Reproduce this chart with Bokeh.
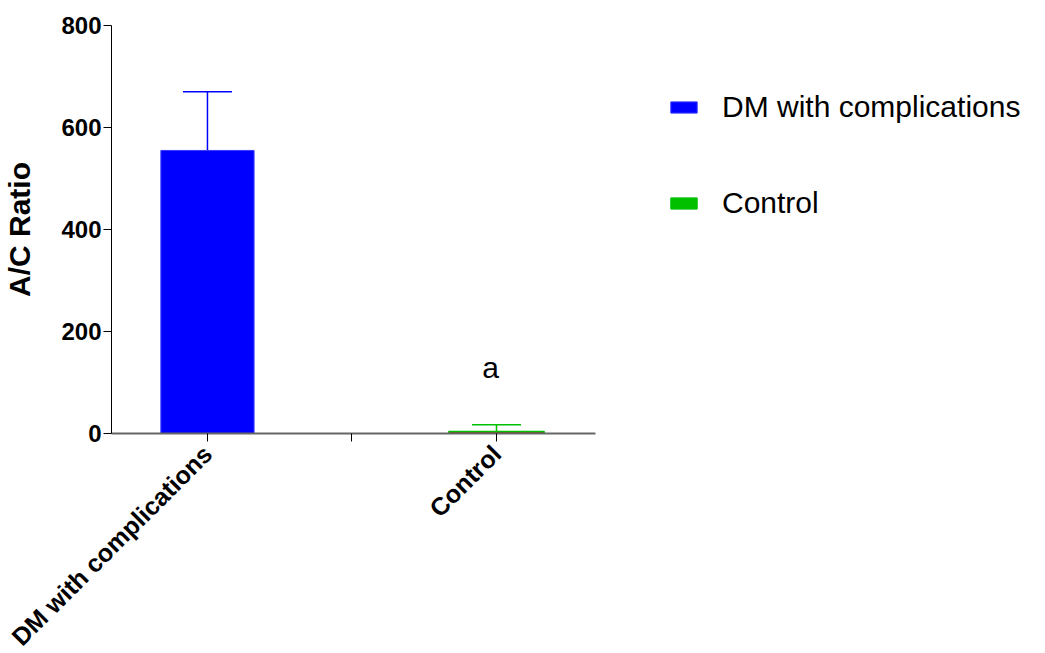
import math
from bokeh.plotting import figure
from bokeh.models import (Range1d, FixedTicker, ColumnDataSource, Whisker, TeeHead,
                          Label, Legend, LegendItem)
from bokeh.embed import file_html
from bokeh.resources import INLINE

# ---- data ----
categories = ["DM with complications", "Control"]
positions = [1, 3]
gap_tick = [2]
means = [555, 4]
errors = [115, 13]
annotations = ["", "a"]
annotation_y = [0, 130]
y_ticks = [0, 200, 400, 600, 800]

FONT = "Liberation Sans"
BLUE = "#0000FF"
GREEN = "#00C000"
RED = "#CC0000"

p = figure(frame_width=484, frame_height=408, output_backend="svg", toolbar_location=None,
           x_range=Range1d(0.336, 3.685), y_range=Range1d(0, 800),
           min_border_left=111, min_border_top=25, min_border_bottom=204, min_border_right=420)
p.outline_line_color = None
p.grid.visible = False
p.background_fill_color = "white"

dm_src = ColumnDataSource(dict(x=[positions[0]], top=[means[0]], upper=[means[0] + errors[0]]))
ct_src = ColumnDataSource(dict(x=[positions[1]], top=[means[1]], upper=[means[1] + errors[1]]))

dm = p.vbar(x="x", top="top", bottom=0, width=0.645, source=dm_src,
            fill_color=BLUE, line_color="#3a3aff", line_width=1)
ct = p.vbar(x="x", top="top", bottom=0, width=0.66, source=ct_src,
            fill_color=RED, line_color=GREEN, line_width=1.5)
proxy = p.vbar(x="x", top="top", bottom=0, width=0.66, source=ct_src,
               fill_color=GREEN, line_color=GREEN, visible=False)

for src, col in ((dm_src, BLUE), (ct_src, GREEN)):
    w = Whisker(source=src, base="x", lower="top", upper="upper", line_color=col, line_width=1.5,
                upper_head=TeeHead(size=49, line_color=col, line_width=1.5), lower_head=None)
    p.add_layout(w)

for xpos, ay, txt in zip(positions, annotation_y, annotations):
    if txt:
        p.add_layout(Label(x=xpos, y=ay, text=txt, text_align="center", text_baseline="alphabetic",
                           x_offset=-6, text_font=FONT, text_font_size="30px", text_color="black"))

legend = Legend(items=[LegendItem(label=categories[0], renderers=[dm]),
                       LegendItem(label=categories[1], renderers=[proxy])],
                location=(72, 213), padding=0, margin=0, border_line_color=None,
                background_fill_alpha=0, label_text_font=FONT, label_text_font_size="30px",
                label_text_color="black",
                glyph_width=33, glyph_height=14, label_height=34, spacing=62,
                label_standoff=22, inactive_fill_alpha=0)
p.add_layout(legend, "right")

# x axis
xa = p.xaxis[0]
xa.ticker = FixedTicker(ticks=positions + gap_tick)
overrides = {positions[0]: categories[0], positions[1]: categories[1], gap_tick[0]: ""}
xa.major_label_overrides = overrides
xa.major_label_orientation = math.pi / 4
xa.major_label_text_font = FONT
xa.major_label_text_font_size = "25px"
xa.major_label_text_font_style = "bold"
xa.major_label_text_color = "black"
xa.major_label_standoff = 8
xa.minor_tick_line_color = None
xa.major_tick_out = 8
xa.major_tick_in = 0
xa.major_tick_line_color = "black"
xa.axis_line_color = "#666666"
xa.axis_line_width = 2

# y axis
ya = p.yaxis[0]
ya.ticker = FixedTicker(ticks=y_ticks)
ya.axis_label = "A/C Ratio"
ya.axis_label_text_font = FONT
ya.axis_label_text_font_size = "30px"
ya.axis_label_text_font_style = "bold"
ya.axis_label_text_color = "black"
ya.axis_label_standoff = 22
ya.major_label_text_font = FONT
ya.major_label_text_font_size = "24px"
ya.major_label_text_font_style = "bold"
ya.major_label_text_color = "black"
ya.major_label_standoff = 2
ya.minor_tick_line_color = None
ya.major_tick_out = 8
ya.major_tick_in = 0
ya.major_tick_line_color = "black"
ya.axis_line_color = "black"

open("out.html", "w").write(file_html(p, INLINE))
